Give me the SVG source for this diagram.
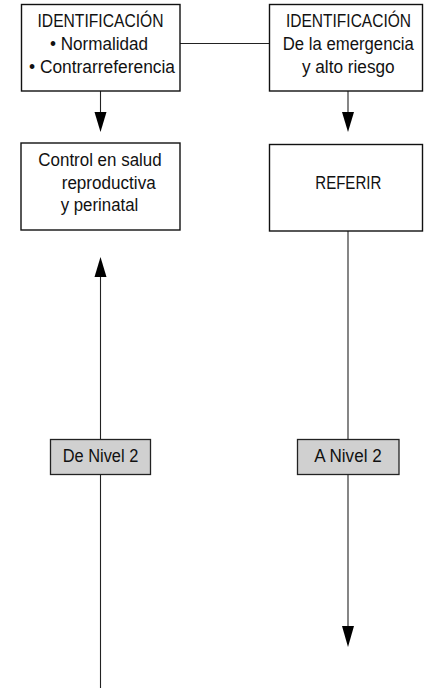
<svg xmlns="http://www.w3.org/2000/svg" width="424" height="688" viewBox="0 0 424 688">
<style>
.box{fill:#fff;stroke:#111;stroke-width:1.4}
.tag{fill:#d0d0d0;stroke:#222;stroke-width:1.3}
.ln{stroke:#222;stroke-width:1.1;fill:none}
.ah{fill:#000}
text{font-family:"Liberation Sans",Arial,sans-serif;font-size:17.5px;fill:#111}
.c{text-anchor:middle}
</style>
<rect width="424" height="688" fill="#fff"/>
<g id="connectors">
<line class="ln" x1="180" y1="43.5" x2="269" y2="43.5"/>
<line class="ln" x1="100.5" y1="91" x2="100.5" y2="114"/>
<polygon class="ah" points="94.5,112 106.5,112 100.5,132"/>
<line class="ln" x1="348" y1="91" x2="348" y2="114"/>
<polygon class="ah" points="342,112 354,112 348,132"/>
<line class="ln" x1="100.5" y1="275" x2="100.5" y2="439"/>
<line class="ln" x1="100.5" y1="474" x2="100.5" y2="688"/>
<polygon class="ah" points="94.5,277 106.5,277 100.5,257"/>
<line class="ln" x1="348" y1="231" x2="348" y2="439"/>
<line class="ln" x1="348" y1="474" x2="348" y2="628"/>
<polygon class="ah" points="342,626 354,626 348,647"/>
</g>
<g id="n1">
<rect class="box" x="21.5" y="4.5" width="158.5" height="86.5"/>
<text class="c" x="100.5" y="27" textLength="126" lengthAdjust="spacingAndGlyphs">IDENTIFICACIÓN</text>
<text class="c" x="99" y="50" textLength="98" lengthAdjust="spacingAndGlyphs">• Normalidad</text>
<text class="c" x="102" y="73" textLength="146" lengthAdjust="spacingAndGlyphs">• Contrarreferencia</text>
</g>
<g id="n2">
<rect class="box" x="269.5" y="4.5" width="153" height="86.5"/>
<text class="c" x="348.5" y="27" textLength="125" lengthAdjust="spacingAndGlyphs">IDENTIFICACIÓN</text>
<text class="c" x="348.3" y="50" textLength="131" lengthAdjust="spacingAndGlyphs">De la emergencia</text>
<text class="c" x="348.3" y="73" textLength="92.7" lengthAdjust="spacingAndGlyphs">y alto riesgo</text>
</g>
<g id="n3">
<rect class="box" x="21" y="143" width="159" height="87"/>
<text x="38.3" y="166" textLength="123.4" lengthAdjust="spacingAndGlyphs">Control en salud</text>
<text x="61.7" y="188.5" textLength="94" lengthAdjust="spacingAndGlyphs">reproductiva</text>
<text x="60.7" y="211" textLength="77.6" lengthAdjust="spacingAndGlyphs">y perinatal</text>
</g>
<g id="n4">
<rect class="box" x="269.5" y="144.5" width="153" height="86.5"/>
<text class="c" x="348.3" y="189.3" textLength="66" lengthAdjust="spacingAndGlyphs">REFERIR</text>
</g>
<g id="n5">
<rect class="tag" x="50.5" y="439.5" width="100" height="35"/>
<text class="c" x="100.5" y="462" textLength="75.6" lengthAdjust="spacingAndGlyphs">De Nivel 2</text>
</g>
<g id="n6">
<rect class="tag" x="297.5" y="439.5" width="101.5" height="35"/>
<text class="c" x="348" y="462" textLength="67.4" lengthAdjust="spacingAndGlyphs">A Nivel 2</text>
</g>
</svg>
